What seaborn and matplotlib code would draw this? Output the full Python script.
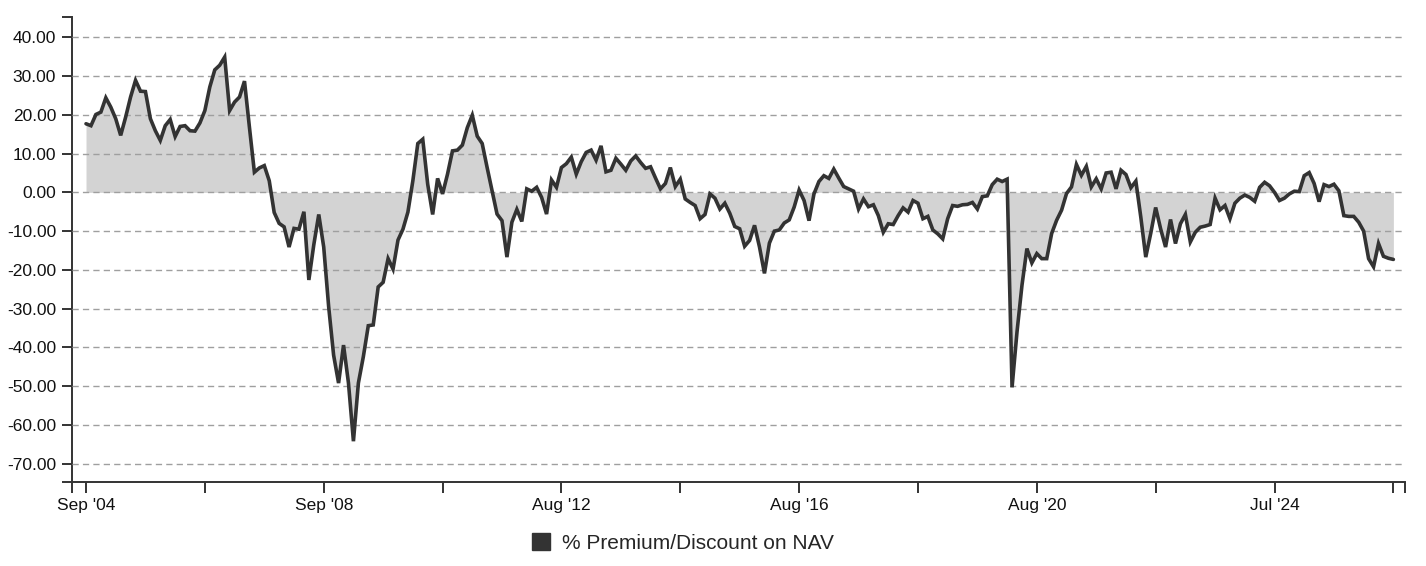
import numpy as np
import pandas as pd
import matplotlib
matplotlib.use("Agg")
import matplotlib.pyplot as plt
import seaborn as sns
from matplotlib.patches import Patch
from matplotlib.ticker import StrMethodFormatter

# monthly premium / discount to NAV in %, Sep 2004 onwards
premium = [
    17.7, 17.2, 20.1, 20.7, 24.4, 22.0, 19.0, 14.7, 19.4, 24.6,
    28.9, 26.1, 26.0, 19.0, 15.9, 13.4, 17.2, 18.8, 14.4, 17.0,
    17.2, 15.9, 15.8, 17.9, 21.1, 27.2, 31.6, 32.8, 34.9, 21.1,
    23.3, 24.6, 28.7, 16.8, 5.2, 6.3, 6.9, 3.0, -5.2, -8.0,
    -8.9, -14.1, -9.3, -9.5, -5.0, -22.6,
    -13.5, -5.7, -14.1, -29.5, -42.0, -49.2, -39.4, -49.2, -64.2, -49.2,
    -42.4, -34.4, -34.2, -24.4, -23.2, -17.1, -19.8, -12.3, -9.5,
    -5.1, 3.0, 12.6, 13.7, 2.1, -5.7, 3.6, -0.4, 4.7, 10.7,
    10.9, 12.2, 16.7, 19.9, 14.5, 12.6, 6.4, 0.4, -5.6, -7.3,
    -16.7, -7.7, -4.4, -7.5, 0.9, 0.3, 1.3, -1.3, -5.6, 3.2,
    1.3, 6.4, 7.4, 9.1, 4.7, 7.9, 10.3, 10.9, 8.3, 12.0,
    5.3, 5.7, 8.8, 7.3, 5.7, 8.1, 9.4, 7.7, 6.2, 6.6,
    3.7, 0.9, 2.3, 6.4, 1.5, 3.4, -1.7, -2.6, -3.4, -6.8,
    -5.7, -0.4, -1.5,
    -4.3, -2.8, -5.4, -8.8, -9.4, -13.9, -12.4, -8.5, -14.1, -20.9,
    -13.1, -10.0, -9.7, -7.9, -7.1, -3.8, 0.6, -2.1, -7.3, -0.4,
    2.8, 4.3, 3.6, 6.0, 3.7, 1.5, 0.9, 0.3, -4.3, -1.7,
    -3.7, -3.2, -6.0, -10.3, -8.1, -8.3, -6.0, -4.0, -5.1, -2.1,
    -2.8, -6.8, -6.2, -9.7, -10.7, -12.0, -6.8, -3.4, -3.6, -3.2,
    -3.1, -2.6, -4.3, -1.1, -0.9, 2.0, 3.4, 2.8, 3.4,
    -50.3, -36.0, -24.0, -14.5, -18.2, -15.8, -17.1, -17.1, -10.6, -7.2,
    -4.6, -0.3, 1.4, 7.2, 4.4, 6.7, 1.4, 3.5, 0.9, 5.0,
    5.2, 0.9, 5.7, 4.6, 1.2, 2.9, -6.4, -16.7, -10.6, -3.9,
    -9.4, -14.1, -7.0, -13.2, -8.1, -5.7, -12.8,
    -10.3, -9.0, -8.7, -8.3, -1.5, -4.5, -3.4, -6.8, -2.8, -1.5,
    -0.7, -1.3, -2.3, 1.3, 2.6, 1.7, 0.0, -2.1, -1.5, -0.4,
    0.3, 0.2, 4.3, 5.1, 2.3, -2.4, 2.0, 1.5, 2.1, 0.4,
    -6.0, -6.2, -6.2, -7.7, -10.0, -17.1, -19.2, -13.2, -16.5, -17.0,
    -17.3,
]

tick_step = 24
tick_labels = ["Sep '04", "", "Sep '08", "", "Aug '12", "", "Aug '16", "",
               "Aug '20", "", "Jul '24", ""]
y_ticks = [40, 30, 20, 10, 0, -10, -20, -30, -40, -50, -60, -70]
series_name = "% Premium/Discount on NAV"

sns.set_theme(style="white")
plt.rcParams["font.family"] = ["Liberation Sans", "DejaVu Sans"]
plt.rcParams["lines.scale_dashes"] = False
plt.rcParams["axes.unicode_minus"] = False

dark = "#333333"
df = pd.DataFrame({"idx": np.arange(len(premium)), "value": premium})

W, H = 1426, 566
fig = plt.figure(figsize=(W / 100, H / 100), dpi=100)
ax = fig.add_axes([72 / W, 1 - 482 / H, (1405 - 72) / W, (482 - 17) / H])

ax.fill_between(df["idx"], 0, df["value"], color="#d3d3d3", lw=0, zorder=1)
sns.lineplot(data=df, x="idx", y="value", color=dark, lw=2.6, ax=ax,
             zorder=3, solid_joinstyle="miter")

xmin, xmax = -2.83, 266.35
ymin, ymax = -74.72, 45.24
ax.set_xlim(xmin, xmax)
ax.set_ylim(ymin, ymax)

ax.set_xticks(np.arange(len(tick_labels)) * tick_step)
ax.set_xticklabels(tick_labels)
ax.set_xticks([xmin, xmax], minor=True)
ax.set_yticks(y_ticks)
ax.set_yticks([ymin, ymax], minor=True)
ax.yaxis.set_major_formatter(StrMethodFormatter("{x:.2f}"))

ax.set_xlabel("")
ax.set_ylabel("")

ax.set_axisbelow(False)
ax.xaxis.grid(False)
ax.yaxis.grid(True, which="major", color="#9f9f9f", lw=1.0,
              linestyle=(0, (4.5, 3.0)))

for side in ["top", "right"]:
    ax.spines[side].set_visible(False)
for side in ["left", "bottom"]:
    ax.spines[side].set_color(dark)
    ax.spines[side].set_linewidth(1.4)

ax.tick_params(axis="x", which="both", bottom=True, direction="out",
               length=7.9, width=1.4, color=dark, labelsize=12.5,
               labelcolor="#111111", pad=3.5)
ax.tick_params(axis="y", which="both", left=True, direction="out",
               length=7.2, width=1.4, color=dark, labelsize=12.5,
               labelcolor="#111111", pad=4.3)

handle = Patch(facecolor=dark, edgecolor=dark)
fig.legend(handles=[handle], labels=[series_name], loc="center",
           bbox_to_anchor=(683 / W, 1 - 543 / H), frameon=False,
           fontsize=15, handlelength=0.85, handleheight=0.85,
           handletextpad=0.55)

fig.savefig("out.png", dpi=100)
